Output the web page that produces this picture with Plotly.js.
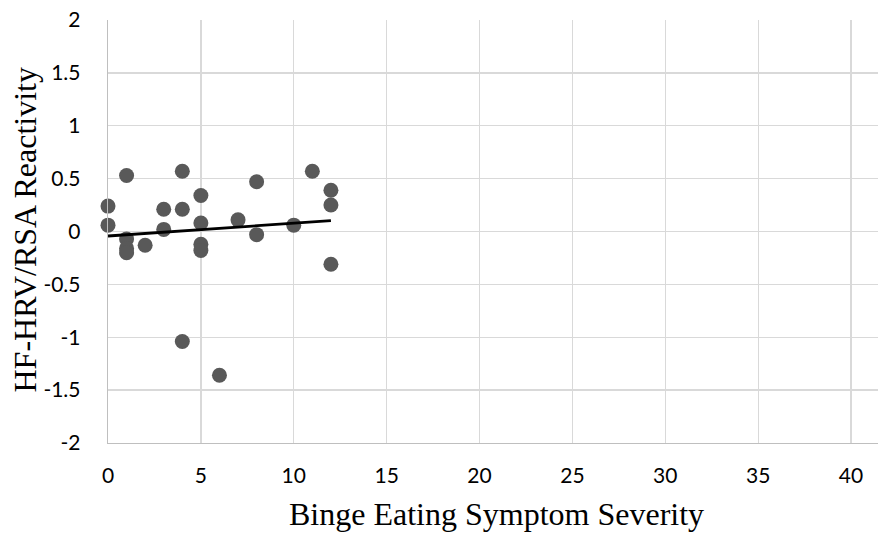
<!DOCTYPE html>
<html>
<head>
<meta charset="utf-8">
<script src="https://cdn.plot.ly/plotly-3.0.1.min.js"></script>
<style>html,body{margin:0;padding:0;background:#fff;}#chart{width:878px;height:533px;}</style>
</head>
<body>
<div id="chart"></div>
<script>
// Binge eating symptom severity (x) vs HF-HRV/RSA reactivity (y)
const severity = [0, 0, 1, 1, 1, 1, 2, 3, 3, 4, 4, 4, 5, 5, 5, 5, 6, 7, 8, 8, 10, 11, 12, 12, 12];
const reactivity = [0.24, 0.06, 0.53, -0.07, -0.16, -0.20, -0.13, 0.21, 0.02, 0.57, 0.21, -1.04, 0.34, 0.08, -0.12, -0.18, -1.36, 0.11, 0.47, -0.03, 0.06, 0.57, 0.39, 0.25, -0.31];
const xTicks = [0, 5, 10, 15, 20, 25, 30, 35, 40];
const yTicks = [-2, -1.5, -1, -0.5, 0, 0.5, 1, 1.5, 2];
const xTitle = 'Binge Eating Symptom Severity';
const yTitle = 'HF-HRV/RSA Reactivity';

// least squares trendline computed from the data
const n = severity.length;
const mx = severity.reduce((a, b) => a + b, 0) / n;
const my = reactivity.reduce((a, b) => a + b, 0) / n;
let sxy = 0, sxx = 0;
for (let i = 0; i < n; i++) { sxy += (severity[i] - mx) * (reactivity[i] - my); sxx += (severity[i] - mx) ** 2; }
const slope = sxy / sxx, intercept = my - slope * mx;
const xMin = Math.min(...severity), xMax = Math.max(...severity);
const trendX = [xMin, xMax];
const trendY = trendX.map(x => intercept + slope * x);

const tickFont = {family: 'Lato, "Open Sans", sans-serif', size: 21, color: '#000'};
const titleFont = {family: '"Liberation Serif", "Times New Roman", serif', size: 32, color: '#000'};

const traces = [
  {x: severity, y: reactivity, type: 'scatter', mode: 'markers',
   marker: {color: '#595959', size: 15}, cliponaxis: false, hoverinfo: 'x+y'},
  {x: trendX, y: trendY, type: 'scatter', mode: 'lines',
   line: {color: '#000000', width: 2.8}, hoverinfo: 'skip'}
];

const layout = {
  width: 878, height: 533,
  margin: {l: 108, r: 0, t: 20, b: 90, pad: 0},
  paper_bgcolor: '#ffffff', plot_bgcolor: '#ffffff',
  showlegend: false,
  font: tickFont,
  xaxis: {
    range: [0, 41.45], tickvals: xTicks, ticktext: xTicks.map(String),
    showgrid: true, gridcolor: '#d9d9d9', gridwidth: 1.3,
    zeroline: false, showline: true, linecolor: '#bfbfbf', linewidth: 1.3,
    ticks: '', ticklabelstandoff: 13, tickfont: tickFont
  },
  yaxis: {
    range: [-2, 2], tickvals: yTicks, ticktext: yTicks.map(String),
    showgrid: true, gridcolor: '#d9d9d9', gridwidth: 1.3,
    zeroline: false, showline: true, linecolor: '#bfbfbf', linewidth: 1.3,
    ticks: '', ticklabelstandoff: 22, tickfont: tickFont
  },
  annotations: [
    {text: xTitle, xref: 'paper', yref: 'paper', x: 0.5, y: 0, xanchor: 'center', yanchor: 'middle',
     xshift: 3, yshift: -71, showarrow: false, font: titleFont},
    {text: yTitle, xref: 'paper', yref: 'paper', x: 0, y: 0.5, xanchor: 'center', yanchor: 'middle',
     xshift: -84, yshift: 1, textangle: -90, showarrow: false, font: titleFont}
  ]
};

Plotly.newPlot('chart', traces, layout, {staticPlot: true, displayModeBar: false});
</script>
</body>
</html>
